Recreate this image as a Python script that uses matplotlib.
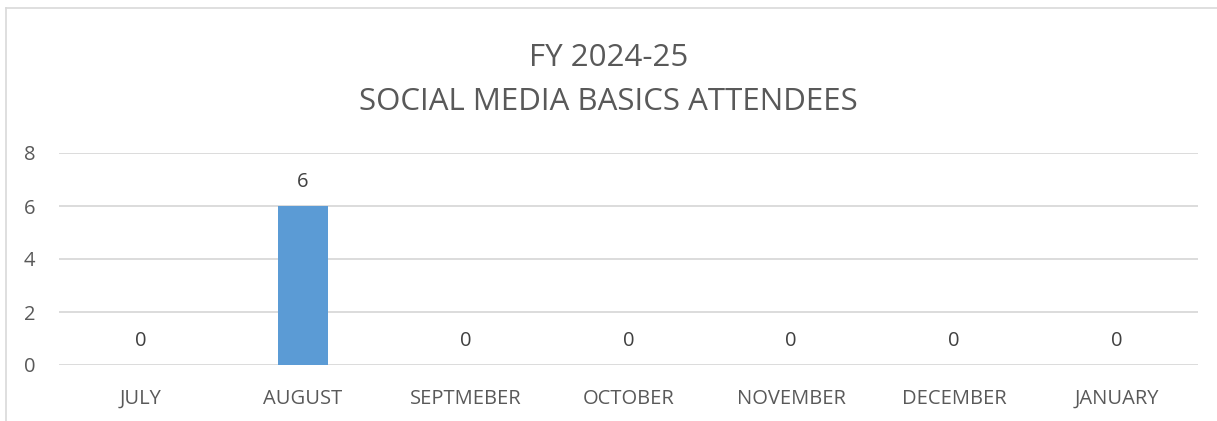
import matplotlib.pyplot as plt
from matplotlib.lines import Line2D

months = ["JULY", "AUGUST", "SEPTMEBER", "OCTOBER", "NOVEMBER", "DECEMBER", "JANUARY"]
attendees = [0, 6, 0, 0, 0, 0, 0]
y_ticks = [0, 2, 4, 6, 8]
title = "FY 2024-25\nSOCIAL MEDIA BASICS ATTENDEES"

plt.rcParams["font.family"] = ["Open Sans", "DejaVu Sans"]
text_col = "#595959"

fig = plt.figure(figsize=(12.17, 4.21), dpi=100)
ax = fig.add_axes([59 / 1217, 1 - 365 / 421, (1198 - 59) / 1217, (365 - 153) / 421])

x = range(len(months))
bars = ax.bar(x, attendees, width=0.31, color="#5B9BD5", zorder=3)
for rect, v in zip(bars, attendees):
    ax.annotate(str(v), (rect.get_x() + rect.get_width() / 2, v),
                xytext=(0, 10), textcoords="offset points",
                ha="center", va="bottom", fontsize=14.5, color="#404040")

ax.set_xlim(-0.5, len(months) - 0.5)
ax.set_ylim(0, 8)
ax.set_yticks(y_ticks)
ax.set_xticks(list(x))
ax.set_xticklabels(months)
ax.tick_params(axis="both", length=0, labelsize=14.5, labelcolor=text_col)
ax.tick_params(axis="x", pad=17)
ax.tick_params(axis="y", pad=17)
ax.yaxis.grid(True, color="#d9d9d9", linewidth=1.3, zorder=0)
for s in ax.spines.values():
    s.set_visible(False)

fig.text(0.5, 1 - 80 / 421, title, ha="center", va="center", fontsize=22.5,
         color=text_col, linespacing=1.6)

# chart frame, only left and top edges inside the image
fig.add_artist(Line2D([6 / 1217, 6 / 1217], [0, 1 - 8 / 421], color="#d9d9d9", lw=1.2))
fig.add_artist(Line2D([6 / 1217, 1], [1 - 8 / 421, 1 - 8 / 421], color="#d9d9d9", lw=1.2))

fig.savefig("out.png", dpi=100, facecolor="white")
